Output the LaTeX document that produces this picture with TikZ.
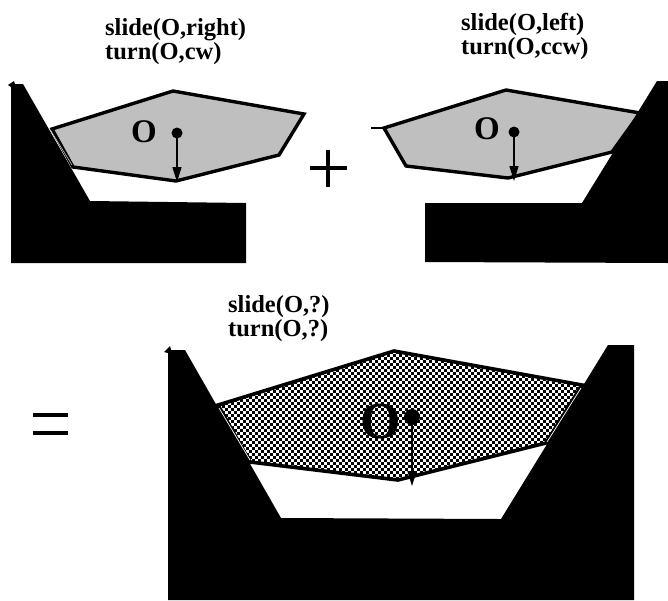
\documentclass[tikz,border=0pt]{standalone}
\usepackage{fontspec}
\setmainfont{Liberation Serif}
\usetikzlibrary{arrows.meta}
\definecolor{polygray}{gray}{0.75}
\tikzset{
  x=1pt,y=-1pt,
  wall/.style={fill=black,draw=none},
  poly/.style={draw=black,line width=3.4pt,line join=miter,fill=polygray},
  polyline/.style={draw=black,line width=3.6pt,line join=miter},
  pivot/.style={circle,fill=black,inner sep=0pt,minimum size=#1},
  label/.style={font=\bfseries\fontsize{24.5}{22}\selectfont,align=left,inner sep=0pt,anchor=base west},
  bigo/.style={font=\bfseries\fontsize{#1}{#1}\selectfont,inner sep=0pt},
  down/.style={-{Stealth[length=15pt,width=9pt,inset=0pt]},line width=1.4pt},
  sliver/.style={draw=white,line width=0.7pt}
}
\begin{document}
\begin{tikzpicture}
\useasboundingbox (0,0) rectangle (668,600);
% top left
\path[poly] (52,129)--(173,91)--(304,114)--(279,155)--(176,181)--(73,167)--cycle;
\path[wall] (11,263)--(11,87)--(8,85)--(14,81)--(15,84)--(23,84)--(90,201)--(246,203)--(246,263)--cycle;
\path[draw=polygray,line width=0.6pt] (51,131)--(72,165);
\node[label] (t1) at (105,59) {slide(O,right)\\turn(O,cw)};
\node[bigo=33] (o1) at (144,132) {O};
\node[pivot=11pt] (p1) at (177,133) {};
\coordinate (e1) at (177,182);
\draw[down] (p1.center)--(e1);
% plus
\draw[line width=4pt] (310,168)--(347,168) (328,150)--(328,187);
% top right
\path[poly] (384,128)--(506,90)--(640,113)--(612,152)--(508,178)--(406,166)--cycle;
\draw[line width=1.5pt] (371,128)--(384,128);
\path[wall] (657,81)--(668,81)--(668,263)--(425,262)--(425,203)--(582,203)--cycle;
\node[label] (t2) at (461,54) {slide(O,left)\\turn(O,ccw)};
\node[bigo=33] (o2) at (487,129) {O};
\node[pivot=11pt] (p2) at (514,132) {};
\coordinate (e2) at (514,181);
\draw[down] (p2.center)--(e2);
% equals
\draw[line width=4.5pt] (33,415)--(68,415) (33,433)--(68,433);
% bottom
\path[wall] (168,600)--(168,353)--(164,352)--(170,346)--(171,350)--(185,350)--(281,518)--(501,519)--(608,345)--(634,345)--(634,600)--cycle;
\node[label] (t3) at (228,336) {slide(O,?)\\turn(O,?)};
\begin{scope}
\clip (218,405)--(394,351)--(582,385)--(546,443)--(398,480)--(250,462)--cycle;
\fill[white] (210,345) rectangle (590,490);
\foreach \r in {0,...,50}{
  \pgfmathsetmacro{\yy}{346+\r*3}
  \pgfmathsetmacro{\ph}{mod(\r,2)*3}
  \draw[line width=3pt,dash pattern=on 3pt off 3pt,dash phase=\ph pt] (210,\yy)--(590,\yy);
}
\end{scope}
\path[polyline] (218,405)--(394,351)--(582,385)--(546,443)--(398,480)--(250,462)--cycle;
\path[sliver] (219,408)--(250,460) (581,388)--(547,442);
\node[bigo=52] (o3) at (381,422) {O};
\node[pivot=16pt] (p3) at (412,417) {};
\coordinate (e3) at (412,486);
\draw[down] (p3.center)--(e3);
\end{tikzpicture}
\end{document}
